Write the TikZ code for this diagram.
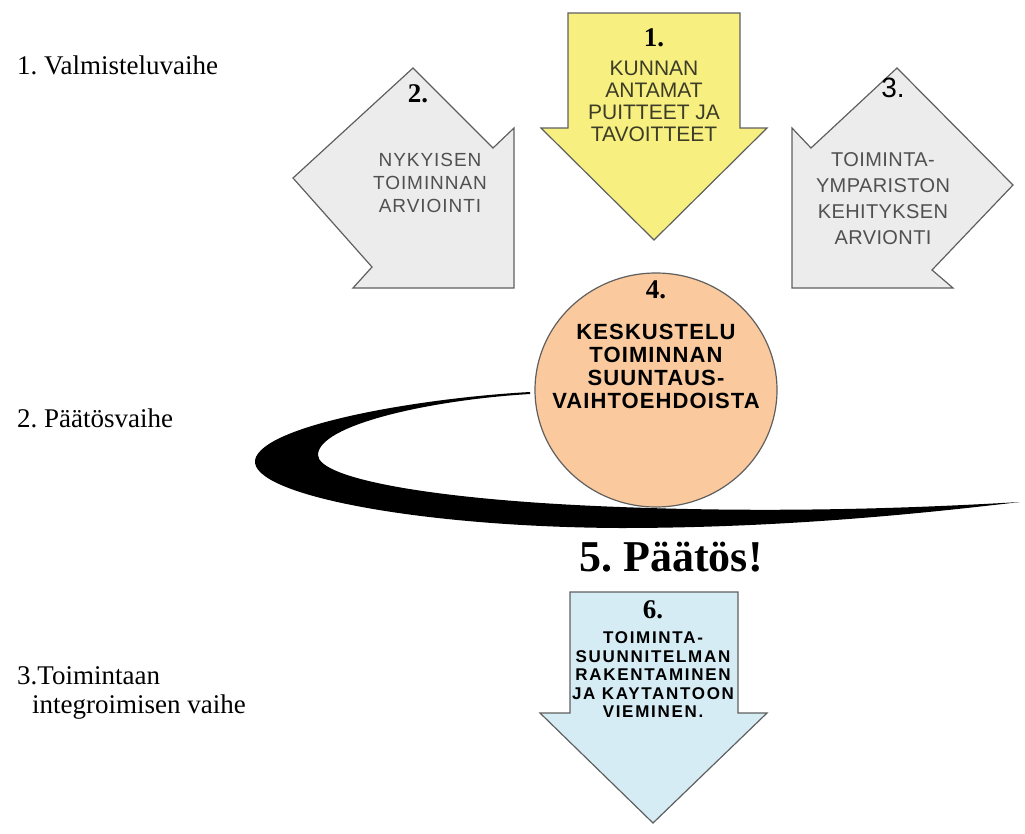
\documentclass[tikz,border=0pt]{standalone}
\usepackage{fontspec}
\setmainfont{Liberation Serif}
\setsansfont{Liberation Sans}
\newfontfamily\widesans[LetterSpace=10]{Liberation Sans}
\newfontfamily\midsans[LetterSpace=5]{Liberation Sans}
\newfontfamily\tightsans[LetterSpace=2]{Liberation Sans}
\usetikzlibrary{positioning,shapes.geometric}

\definecolor{yellowarrow}{RGB}{247,240,128}
\definecolor{grayarrow}{RGB}{236,236,236}
\definecolor{peach}{RGB}{250,202,158}
\definecolor{lightblue}{RGB}{214,236,245}
\definecolor{edgegray}{RGB}{95,95,95}
\definecolor{textgray}{RGB}{80,80,80}
\definecolor{textolive}{RGB}{60,60,40}

\begin{document}
\frenchspacing
\begin{tikzpicture}[x=1pt,y=-1pt,
        arrow shape/.style={draw=edgegray,line width=1.2pt,line join=miter},
        num node/.style={font=\fontsize{27}{27}\selectfont\bfseries},
        body node/.style={align=center,inner sep=0pt},
        phase node/.style={anchor=west,align=left,inner sep=0pt,font=\fontsize{27}{29}\selectfont}]
        \useasboundingbox (0,0) rectangle (1025,833);
        % swirl behind the circle
        \fill[black] (530,392) .. controls (420,398) and (262,425) .. (255,460)
            .. controls (250,495) and (420,527) .. (620,528)
            .. controls (800,528) and (950,510) .. (1020,502)
            .. controls (950,506) and (800,514) .. (620,507)
            .. controls (430,500) and (318,478) .. (318,455)
            .. controls (318,425) and (430,400) .. (530,394) -- cycle;
        % arrows
        \filldraw[arrow shape,fill=yellowarrow] (568,13) -- (740,13) -- (740,128) -- (767,128)
            -- (654,240) -- (541,128) -- (568,128) -- cycle;
        \filldraw[arrow shape,fill=grayarrow] (413,68) -- (493,148) -- (514,128) -- (514,288)
            -- (353,288) -- (372,267) -- (293,178) -- cycle;
        \filldraw[arrow shape,fill=grayarrow] (897,68) -- (1013,185) -- (932,270) -- (953,288)
            -- (792,288) -- (792,128) -- (811,148) -- cycle;
        \filldraw[arrow shape,fill=lightblue] (570,592) -- (738,592) -- (738,713) -- (767,713)
            -- (653,823) -- (540,713) -- (570,713) -- cycle;
        \node[ellipse,draw=edgegray,line width=1.2pt,fill=peach,minimum width=242pt,minimum height=234pt] (4) at (656,390) {};
        % numbers and texts
        \node[num node] (n1) at (654,38) {1.};
        \node[body node,text=textolive,font=\fontsize{21}{22}\selectfont\sffamily] (t1) at (654,101)
            {KUNNAN\\ANTAMAT\\PUITTEET JA\\TAVOITTEET};
        \node[num node] (n2) at (418,94) {2.};
        \node[body node,text=textgray,font=\fontsize{19}{23}\selectfont\midsans] (t2) at (430,183)
            {NYKYISEN\\TOIMINNAN\\ARVIOINTI};
        \node[num node,font=\fontsize{28}{28}\selectfont\sffamily] (n3) at (893,88) {3.};
        \node[body node,text=textgray,font=\fontsize{20}{26}\selectfont\tightsans] (t3) at (883,199)
            {TOIMINTA-\\YMPARISTON\\KEHITYKSEN\\ARVIONTI};
        \node[num node] (n4) at (656,290) {4.};
        \node[body node,font=\fontsize{22}{23}\selectfont\midsans\bfseries] (t4) at (656,366)
            {KESKUSTELU\\TOIMINNAN\\SUUNTAUS-\\VAIHTOEHDOISTA};
        \node[font=\fontsize{44}{44}\selectfont\bfseries] (5) at (671,557) {5. Päätös!};
        \node[num node] (n6) at (653,610) {6.};
        \node[body node,font=\fontsize{17}{18.5}\selectfont\widesans\bfseries] (t6) at (653,675)
            {TOIMINTA-\\SUUNNITELMAN\\RAKENTAMINEN\\JA KAYTANTOON\\VIEMINEN.};
        % phases on the left
        \node[phase node] (p1) at (17,65) {1. Valmisteluvaihe};
        \node[phase node] (p2) at (17,418) {2. Päätösvaihe};
        \node[phase node] (p3) at (17,693) {3.Toimintaan\\\hspace{15pt}integroimisen vaihe};
\end{tikzpicture}
\end{document}
